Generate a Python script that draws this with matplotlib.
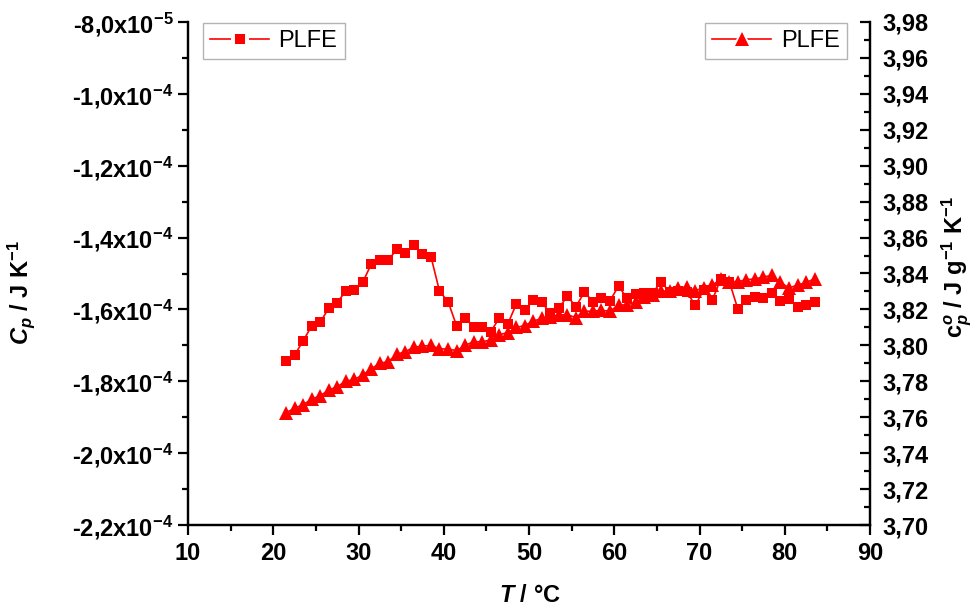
import matplotlib
matplotlib.use("Agg")
import matplotlib.pyplot as plt
from matplotlib.lines import Line2D
from matplotlib.legend_handler import HandlerTuple
from matplotlib.ticker import MultipleLocator, FuncFormatter

plt.rcParams.update({
    "font.family": "Liberation Sans",
    "mathtext.fontset": "custom",
    "mathtext.rm": "Liberation Sans:bold",
    "mathtext.it": "Liberation Sans:italic:bold",
    "mathtext.bf": "Liberation Sans:bold",
})

# temperature (°C)
T = [21.5, 22.5, 23.5, 24.5, 25.5, 26.5, 27.5, 28.5, 29.5, 30.5,
     31.5, 32.5, 33.5, 34.5, 35.5, 36.5, 37.5, 38.5, 39.5, 40.5,
     41.5, 42.5, 43.5, 44.5, 45.5, 46.5, 47.5, 48.5, 49.5, 50.5,
     51.5, 52.5, 53.5, 54.5, 55.5, 56.5, 57.5, 58.5, 59.5, 60.5,
     61.5, 62.5, 63.5, 64.5, 65.5, 66.5, 67.5, 68.5, 69.5, 70.5,
     71.5, 72.5, 73.5, 74.5, 75.5, 76.5, 77.5, 78.5, 79.5, 80.5,
     81.5, 82.5, 83.5]

# heat capacity C_p (units of 1e-4 J/K)
Cp_e4 = [-1.743, -1.727, -1.688, -1.646, -1.636, -1.597, -1.581, -1.549, -1.547, -1.524,
         -1.474, -1.462, -1.462, -1.433, -1.444, -1.421, -1.446, -1.453, -1.549, -1.578,
         -1.645, -1.623, -1.648, -1.650, -1.662, -1.625, -1.641, -1.586, -1.601, -1.574,
         -1.580, -1.611, -1.597, -1.563, -1.592, -1.552, -1.578, -1.569, -1.576, -1.535,
         -1.569, -1.557, -1.555, -1.553, -1.524, -1.551, -1.548, -1.551, -1.588, -1.546,
         -1.574, -1.515, -1.523, -1.599, -1.574, -1.566, -1.569, -1.555, -1.576, -1.572,
         -1.592, -1.588, -1.578]

# specific heat capacity c_p (J/g/K)
cp_spec = [3.7625, 3.765, 3.767, 3.770, 3.772, 3.775, 3.777, 3.780, 3.781, 3.7835,
           3.787, 3.790, 3.791, 3.795, 3.7965, 3.799, 3.7995, 3.800, 3.798, 3.798,
           3.797, 3.800, 3.802, 3.802, 3.803, 3.806, 3.807, 3.810, 3.811, 3.8135,
           3.815, 3.816, 3.817, 3.817, 3.8155, 3.819, 3.819, 3.8195, 3.819, 3.8225,
           3.8225, 3.824, 3.827, 3.828, 3.830, 3.8305, 3.832, 3.8325, 3.8305, 3.832,
           3.8335, 3.837, 3.8355, 3.8355, 3.8365, 3.837, 3.838, 3.839, 3.835, 3.832,
           3.8335, 3.835, 3.837]

Cp = [v * 1e-4 for v in Cp_e4]

RED = "#ff0000"
FS = 17
SQ_MS, TR_MS = 7.3, 10

fig = plt.figure(figsize=(9.76, 6.08), dpi=100)
ax = fig.add_axes([188 / 976, 1 - 525 / 608, 682 / 976, 503 / 608])
ax2 = ax.twinx()

ax.plot(T, Cp, color=RED, lw=1.2, marker="s", ms=SQ_MS, mew=0)
ax2.plot(T, cp_spec, color=RED, lw=1.2, marker="^", ms=TR_MS, mew=0)

ax.set_xlim(10, 90)
ax.set_ylim(-2.2e-4, -8e-5)
ax2.set_ylim(3.70, 3.98)

ax.xaxis.set_major_locator(MultipleLocator(10))
ax.xaxis.set_minor_locator(MultipleLocator(5))
ax.yaxis.set_major_locator(MultipleLocator(2e-5))
ax.yaxis.set_minor_locator(MultipleLocator(1e-5))
ax2.yaxis.set_major_locator(MultipleLocator(0.02))
ax2.yaxis.set_minor_locator(MultipleLocator(0.01))


def sci_fmt(v, pos):
    if v == 0:
        return "0"
    exp = 0
    m = v
    while abs(m) < 1 - 1e-9:
        m *= 10
        exp -= 1
    return f"{m:.1f}".replace(".", ",") + "x10$^{" + str(exp) + "}$"


ax.yaxis.set_major_formatter(FuncFormatter(sci_fmt))
ax2.yaxis.set_major_formatter(FuncFormatter(lambda v, p: f"{v:.2f}".replace(".", ",")))

for a in (ax, ax2):
    for s in a.spines.values():
        s.set_linewidth(1.6)
    a.spines["top"].set_visible(False)

ax.tick_params(axis="both", which="major", direction="out", length=7.5, width=1.6,
               labelsize=FS, pad=3)
ax.tick_params(axis="both", which="minor", direction="out", length=4, width=1.6)
ax.tick_params(axis="x", pad=5)
ax2.tick_params(axis="y", which="major", direction="in", length=7.5, width=1.6,
                labelsize=FS, pad=9)
ax2.tick_params(axis="y", which="minor", direction="in", length=4, width=1.6)

for lab in ax.get_xticklabels() + ax.get_yticklabels() + ax2.get_yticklabels():
    lab.set_fontweight("bold")

ax.set_xlabel(r"$T$ / °C", fontsize=FS, fontweight="bold")
ax.xaxis.set_label_coords(0.501, -0.118)
ax.set_ylabel(r"$C_p$ / J K$^{-1}$", fontsize=FS, fontweight="bold")
ax.yaxis.set_label_coords(-0.222, 0.463)
ax2.set_ylabel(r"$\mathrm{c}^{o}_{p}$ / J g$^{-1}$ K$^{-1}$", fontsize=FS, fontweight="bold")
ax2.yaxis.set_label_coords(1.102, 0.513)


# legend handles: line, white marker to open a gap, red marker on top
def gap_handle(marker, ms):
    line = Line2D([], [], color=RED, lw=1.2)
    rim = Line2D([], [], ls="none", marker=marker, ms=ms + 6, mfc="white", mew=0)
    dot = Line2D([], [], ls="none", marker=marker, ms=ms, mfc=RED, mew=0)
    return (line, rim, dot)


leg_kw = dict(fontsize=FS, frameon=True, fancybox=False, edgecolor="#a0a0a0",
              borderaxespad=0, handlelength=2.5, handletextpad=0.4,
              borderpad=0.3, numpoints=1, handler_map={tuple: HandlerTuple(ndivide=1)})
l1 = ax.legend([gap_handle("s", SQ_MS)], ["PLFE"], loc="upper left",
               bbox_to_anchor=(0.022, 0.998), **leg_kw)
l2 = ax2.legend([gap_handle("^", TR_MS)], ["PLFE"], loc="upper right",
                bbox_to_anchor=(0.966, 0.998), **leg_kw)
for l in (l1, l2):
    l.get_frame().set_linewidth(1.0)

fig.savefig("out.png", dpi=100)
